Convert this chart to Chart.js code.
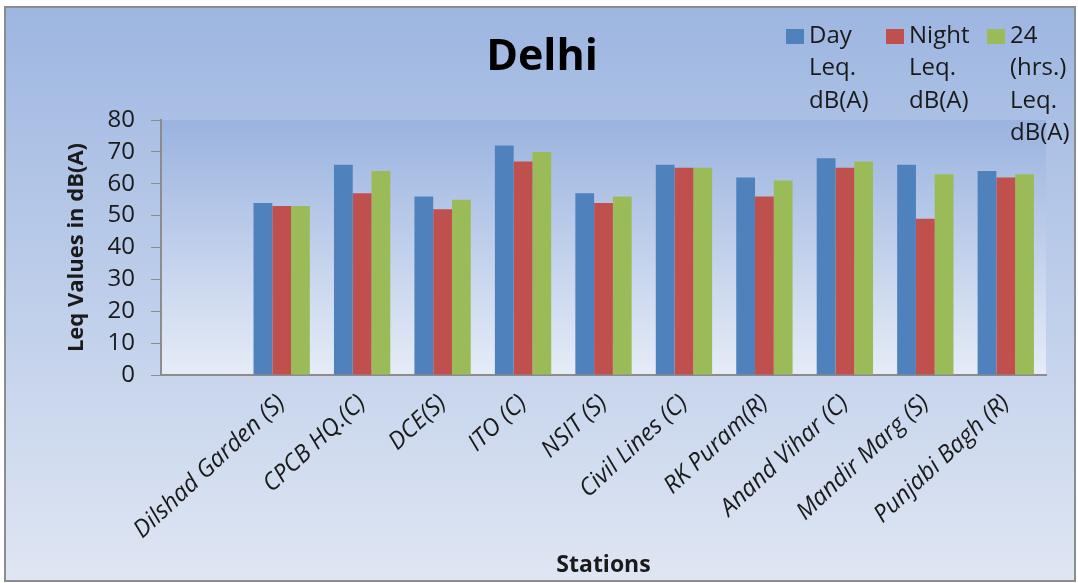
<!DOCTYPE html>
<html>
<head>
<meta charset="utf-8">
<script src="https://cdn.jsdelivr.net/npm/chart.js@4.4.1/dist/chart.umd.min.js"></script>
<style>
  html, body { margin:0; padding:0; background:#fff; }
  #wrap { width:1078px; height:583px; position:relative; }
</style>
</head>
<body>
<div id="wrap"><canvas id="c" width="1078" height="583"></canvas></div>
<script>
const stations = ['', 'Dilshad Garden (S)', 'CPCB HQ.(C)', 'DCE(S)', 'ITO (C)', 'NSIT (S)', 'Civil Lines (C)', 'RK Puram(R)', 'Anand Vihar (C)', 'Mandir Marg (S)', 'Punjabi Bagh (R)'];
const dayLeq   = [null, 54, 66, 56, 72, 57, 66, 62, 68, 66, 64];
const nightLeq = [null, 53, 57, 52, 67, 54, 65, 56, 65, 49, 62];
const fullLeq  = [null, 53, 64, 55, 70, 56, 65, 61, 67, 63, 63];
const seriesNames = [['Day', 'Leq.', 'dB(A)'], ['Night', 'Leq.', 'dB(A)'], ['24', '(hrs.)', 'Leq.', 'dB(A)']];
const colors = ['#4f81bd', '#c0504d', '#9bbb59'];
const FONT = '"Open Sans", "DejaVu Sans", sans-serif';

// background, plot area fill, border, title and the wrapped legend
const decor = {
  id: 'decor',
  beforeDraw(ch) {
    const {ctx, chartArea:a} = ch;
    ctx.save();
    let g = ctx.createLinearGradient(0, 7, 0, 581);
    g.addColorStop(0, '#9db6e1'); g.addColorStop(1, '#dfe6f3');
    ctx.fillStyle = g; ctx.fillRect(5, 7, 1070, 574);
    g = ctx.createLinearGradient(0, a.top, 0, a.bottom);
    g.addColorStop(0, '#9ab3df'); g.addColorStop(1, '#e6ecf7');
    ctx.fillStyle = g; ctx.fillRect(a.left, a.top, a.right - a.left, a.bottom - a.top);
    ctx.strokeStyle = '#8c8c8c'; ctx.lineWidth = 2;
    ctx.strokeRect(5, 7, 1070, 574);
    ctx.fillStyle = '#000';
    ctx.font = 'bold 43px ' + FONT;
    ctx.textAlign = 'center'; ctx.textBaseline = 'middle';
    ctx.fillText('Delhi', 542, 58);
    ctx.restore();
  },
  afterDraw(ch) {
    const ctx = ch.ctx;
    ctx.save();
    ctx.font = '24px ' + FONT;
    ctx.textAlign = 'left'; ctx.textBaseline = 'middle';
    const xs = [786, 886, 987];
    seriesNames.forEach((lines, i) => {
      ctx.fillStyle = colors[i];
      ctx.fillRect(xs[i], 29, 18, 15);
      ctx.fillStyle = '#1a1a1a';
      lines.forEach((t, j) => ctx.fillText(t, xs[i] + 23, 36 + j * 32.5));
    });
    ctx.restore();
  }
};

new Chart(document.getElementById('c'), {
  type: 'bar',
  data: {
    labels: stations,
    datasets: [
      {label: 'Day Leq. dB(A)', data: dayLeq, backgroundColor: colors[0]},
      {label: 'Night Leq. dB(A)', data: nightLeq, backgroundColor: colors[1]},
      {label: '24 (hrs.) Leq. dB(A)', data: fullLeq, backgroundColor: colors[2]}
    ]
  },
  options: {
    responsive: false,
    animation: false,
    layout: {padding: {left: 64, right: 32, top: 120, bottom: 2}},
    datasets: {bar: {categoryPercentage: 0.70, barPercentage: 1}},
    plugins: {legend: {display: false}, title: {display: false}, tooltip: {enabled: false}},
    scales: {
      x: {
        grid: {display: false},
        border: {display: true, color: '#8c8c8c', width: 2},
        ticks: {color: '#1a1a1a', font: {family: FONT, size: 24, style: 'italic'}, maxRotation: 43, minRotation: 43, autoSkip: false, padding: 6},
        title: {display: true, text: 'Stations', color: '#1a1a1a', font: {family: FONT, size: 23, weight: 'bold'}, padding: {top: 0, bottom: 2}},
        afterFit(s) { s.height = 583 - 2 - 375; }
      },
      y: {
        min: 0, max: 80,
        grid: {drawOnChartArea: false, color: '#8c8c8c', tickLength: 10},
        border: {display: true, color: '#8c8c8c', width: 2},
        ticks: {stepSize: 10, color: '#1a1a1a', font: {family: FONT, size: 24}, padding: 16},
        title: {display: true, text: 'Leq Values in dB(A)', color: '#1a1a1a', font: {family: FONT, size: 22, weight: 'bold'}, padding: {top: 0, bottom: 2}},
        afterFit(s) { s.width = 161 - 64; }
      }
    }
  },
  plugins: [decor]
});
</script>
</body>
</html>
